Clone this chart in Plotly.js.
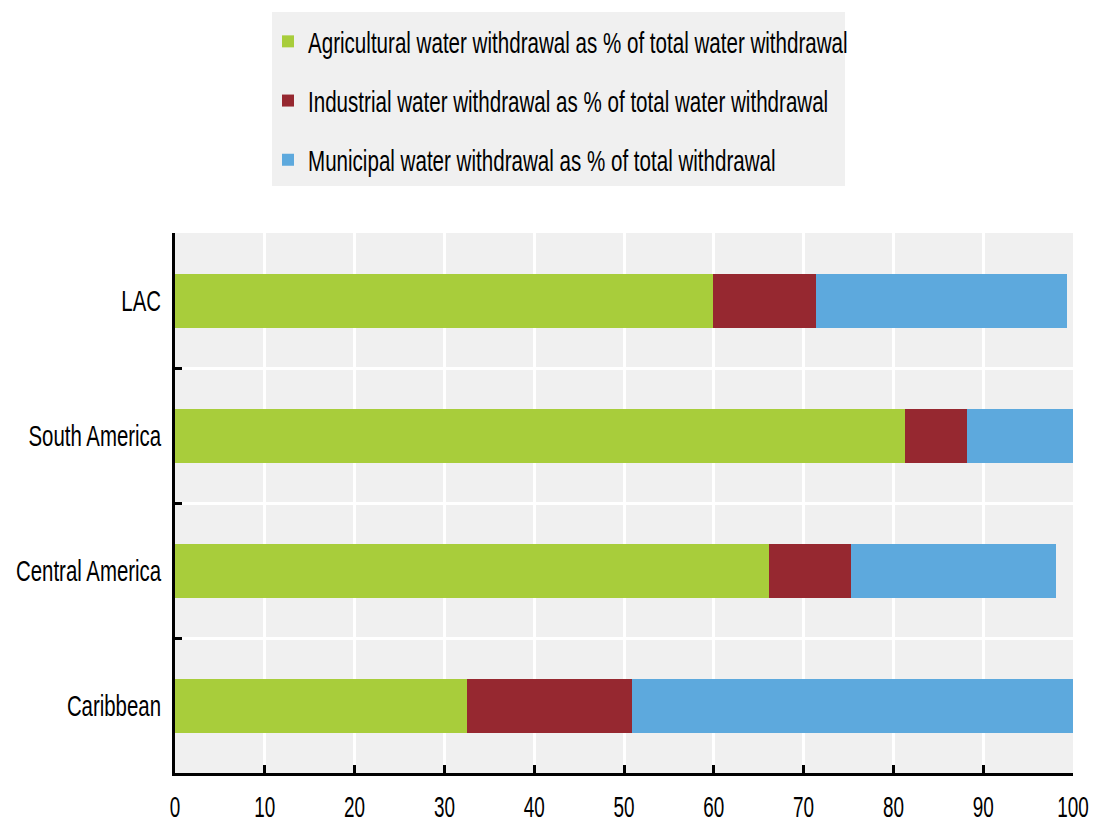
<!DOCTYPE html>
<html>
<head>
<meta charset="utf-8">
<script src="https://cdn.plot.ly/plotly-3.0.1.min.js"></script>
<style>html,body{margin:0;padding:0;background:#fff;}#chart{width:1093px;height:827px;}</style>
</head>
<body>
<div id="chart"></div>
<script>
const regions = ['Caribbean', 'Central America', 'South America', 'LAC'];
const agricultural = [32.5, 66.2, 81.3, 59.9];
const industrial = [18.4, 9.1, 6.9, 11.5];
const municipal = [49.1, 22.8, 11.8, 27.9];
const seriesNames = [
  'Agricultural water withdrawal as % of total water withdrawal',
  'Industrial water withdrawal as % of total water withdrawal',
  'Municipal water withdrawal as % of total withdrawal'
];
const colors = ['#a8cd3b', '#962830', '#5da9dd'];
const xTicks = [0, 10, 20, 30, 40, 50, 60, 70, 80, 90, 100];

const FONT = '"Liberation Sans", Arial, sans-serif';
const vals = [agricultural, industrial, municipal];
const traces = vals.map((v, i) => ({
  type: 'bar',
  orientation: 'h',
  y: regions,
  x: v,
  name: seriesNames[i],
  legendgroup: 'g' + i,
  marker: {color: colors[i], line: {width: 0}},
  hoverinfo: 'x+name'
}));

// plot area: x 175..1073, y 233..773
const L = 175, R = 20, T = 233, B = 54, W = 1093, H = 827;
const pw = W - L - R, ph = H - T - B;
const px = p => (p - L) / pw;
const py = p => (H - B - p) / ph;

const layout = {
  width: W, height: H,
  margin: {l: L, r: R, t: T, b: B},
  paper_bgcolor: '#ffffff',
  plot_bgcolor: '#f0f0f0',
  barmode: 'stack',
  bargap: 0.6,
  font: {family: FONT, size: 30, color: '#000'},
  showlegend: true,
  legend: {
    x: px(268), xanchor: 'left',
    y: py(16), yanchor: 'top',
    bgcolor: 'rgba(0,0,0,0)',
    font: {family: FONT, size: 29, color: '#000'},
    tracegroupgap: 18.5,
    traceorder: 'grouped'
  },
  shapes: [{
    type: 'rect', xref: 'paper', yref: 'paper', layer: 'below',
    x0: px(272), x1: px(845), y0: py(186), y1: py(12),
    fillcolor: '#f0f0f0', line: {width: 0}
  }],
  xaxis: {
    range: [0, 100],
    tickvals: xTicks,
    ticktext: xTicks.map(String),
    ticks: 'inside', ticklen: 8, tickwidth: 3, tickcolor: '#000',
    showline: true, linecolor: '#000', linewidth: 3,
    showgrid: true, gridcolor: '#ffffff', gridwidth: 3,
    zeroline: false,
    ticklabelstandoff: 5,
    ticklabeloverflow: 'allow',
    tickfont: {family: FONT, size: 30, color: '#000'},
    fixedrange: true
  },
  yaxis: {
    type: 'category',
    categoryorder: 'array', categoryarray: regions,
    tickson: 'boundaries',
    ticks: 'inside', ticklen: 7, tickwidth: 3, tickcolor: '#000',
    showline: true, linecolor: '#000', linewidth: 3,
    showgrid: true, gridcolor: '#ffffff', gridwidth: 3,
    zeroline: false,
    ticklabelstandoff: 5,
    tickfont: {family: FONT, size: 30, color: '#000'},
    fixedrange: true
  }
};

// condense text horizontally (the reference uses a tall, narrow typeface)
function condense(sel, s) {
  document.querySelectorAll(sel).forEach(el => {
    const bb = el.getBBox();
    const a = el.getAttribute('text-anchor') || 'start';
    const ax = a === 'end' ? bb.x + bb.width : (a === 'middle' ? bb.x + bb.width / 2 : bb.x);
    const tr = el.getAttribute('transform') || '';
    el.setAttribute('transform', tr + ' translate(' + ax + ',0) scale(' + s + ',1) translate(' + (-ax) + ',0)');
  });
}

Plotly.newPlot('chart', traces, layout, {displayModeBar: false, staticPlot: true}).then(() => {
  condense('#chart .xtick text', 0.63);
  condense('#chart .ytick text', 0.68);
  condense('#chart .legendtext', 0.71);
});
</script>
</body>
</html>
